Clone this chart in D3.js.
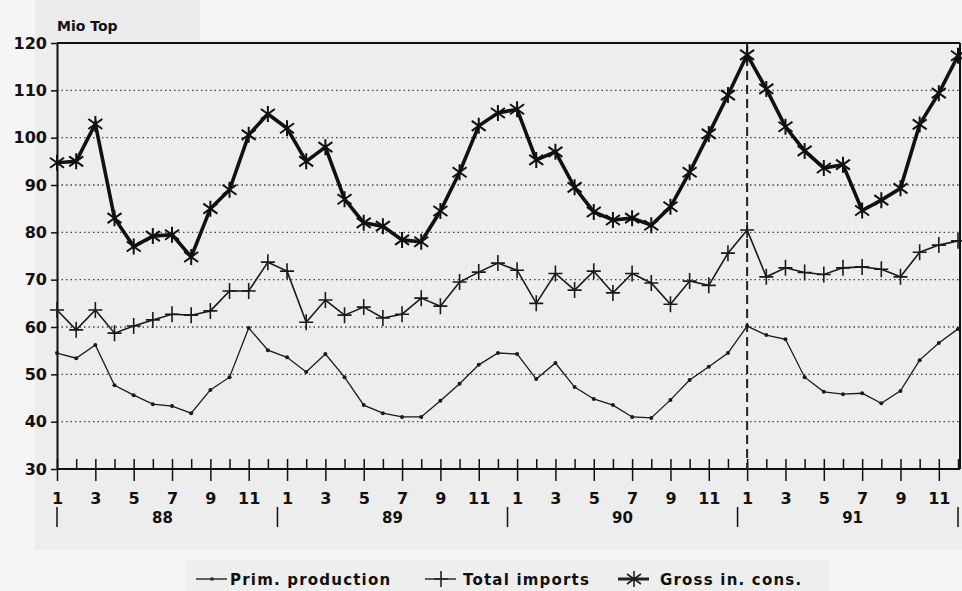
<!DOCTYPE html>
<html>
<head>
<meta charset="utf-8">
<script src="https://cdn.jsdelivr.net/npm/d3@7"></script>
<style>
  body { margin: 0; background: #f5f5f5; }
  svg { display: block; }
  text { font-family: "DejaVu Sans", sans-serif; font-weight: bold; fill: #111; }
</style>
</head>
<body>
<svg id="chart" width="962" height="591"></svg>
<script>
// months Jan 1988 .. Dec 1991
var years = ['88', '89', '90', '91'];
var monthLabels = [1, 3, 5, 7, 9, 11];
var yTicks = [30, 40, 50, 60, 70, 80, 90, 100, 110, 120];

// Mio Toe
var primProduction = [
  54.5, 53.4, 56.2, 47.7, 45.6, 43.7, 43.3, 41.8, 46.7, 49.4, 59.8, 55.1,
  53.6, 50.5, 54.3, 49.4, 43.5, 41.8, 41.0, 41.0, 44.4, 48.0, 52.0, 54.5,
  54.3, 49.0, 52.4, 47.3, 44.8, 43.5, 41.0, 40.8, 44.6, 48.8, 51.6, 54.5,
  60.2, 58.3, 57.4, 49.4, 46.3, 45.8, 46.0, 43.9, 46.5, 53.0, 56.6, 59.6
];
var totalImports = [
  63.6, 59.4, 63.6, 58.7, 60.2, 61.5, 62.7, 62.5, 63.4, 67.6, 67.6, 73.7,
  71.8, 61.0, 65.7, 62.5, 64.2, 61.9, 62.7, 66.1, 64.4, 69.5, 71.6, 73.5,
  72.0, 65.0, 71.3, 67.8, 71.8, 67.2, 71.3, 69.3, 64.8, 69.7, 68.8, 75.6,
  80.5, 70.6, 72.5, 71.5, 71.1, 72.5, 72.7, 72.2, 70.6, 75.8, 77.3, 78.2
];
var grossCons = [
  94.7, 95.0, 102.9, 83.0, 77.0, 79.2, 79.5, 74.8, 85.0, 89.0, 100.6, 105.0,
  102.0, 95.0, 98.0, 87.0, 82.0, 81.3, 78.4, 78.0, 84.5, 92.7, 102.5, 105.2,
  106.0, 95.3, 97.0, 89.5, 84.3, 82.6, 83.0, 81.5, 85.4, 92.7, 100.8, 109.0,
  117.5, 110.3, 102.3, 97.2, 93.6, 94.3, 84.6, 86.8, 89.3, 102.8, 109.4, 117.3
];

var svg = d3.select('#chart');
var plotL = 57, plotR = 958, plotT = 43, plotB = 469;

var x = d3.scaleLinear().domain([0, 47]).range([plotL, plotR]);
var y = d3.scaleLinear().domain([30, 120]).range([plotB, plotT]);

// scanned page background
svg.append('rect').attr('x', 35).attr('y', 0).attr('width', 165).attr('height', 45).attr('fill', '#ebebeb');
svg.append('rect').attr('x', 35).attr('y', 40).attr('width', 927).attr('height', 510).attr('fill', '#ededed');
svg.append('rect').attr('x', 185).attr('y', 560).attr('width', 645).attr('height', 31).attr('fill', '#eeeeee');

// grid
svg.append('g')
  .selectAll('line')
  .data(yTicks.filter(function(d) { return d > 30 && d < 120; }))
  .join('line')
  .attr('x1', plotL).attr('x2', plotR + 2)
  .attr('y1', function(d) { return y(d); })
  .attr('y2', function(d) { return y(d); })
  .attr('stroke', '#444')
  .attr('stroke-width', 1.3)
  .attr('stroke-dasharray', '1.5,3');

// frame
svg.append('line').attr('x1', plotL).attr('x2', plotR + 2).attr('y1', plotT).attr('y2', plotT)
  .attr('stroke', '#111').attr('stroke-width', 2);
svg.append('line').attr('x1', plotR + 2).attr('x2', plotR + 2).attr('y1', plotT).attr('y2', plotB)
  .attr('stroke', '#111').attr('stroke-width', 2);

// y axis
var yAxis = svg.append('g')
  .attr('transform', 'translate(' + plotL + ',0)')
  .call(d3.axisLeft(y).tickValues(yTicks).tickSize(6).tickPadding(4).tickSizeOuter(0));
yAxis.select('.domain').attr('stroke', '#111').attr('stroke-width', 2);
yAxis.selectAll('line').attr('stroke', '#111').attr('stroke-width', 1.5);
yAxis.selectAll('text').style('font-size', '16px').attr('fill', '#111');

// x axis, a tick for every month
var xAxis = svg.append('g')
  .attr('transform', 'translate(0,' + plotB + ')')
  .call(d3.axisBottom(x)
    .tickValues(d3.range(48))
    .tickSizeOuter(0)
    .tickSize(0)
    .tickPadding(24)
    .tickFormat(function(i) {
      var m = i % 12 + 1;
      return monthLabels.indexOf(m) >= 0 ? m : '';
    }));
xAxis.select('.domain').attr('stroke', '#111').attr('stroke-width', 2).attr('d', 'M' + plotL + ',0H' + (plotR + 2));
xAxis.selectAll('.tick line')
  .attr('y1', -10)
  .attr('y2', function(i) { return (i % 2 == 0) ? 12 : 0; })
  .attr('stroke', '#111').attr('stroke-width', 1.5);
xAxis.selectAll('.tick text').style('font-size', '16px').attr('fill', '#111');

// year separators and labels
var sep = [0, 11.5, 23.5, 35.5, 47];
svg.append('g').selectAll('line')
  .data(sep)
  .join('line')
  .attr('x1', function(d) { return x(d); })
  .attr('x2', function(d) { return x(d); })
  .attr('y1', 507).attr('y2', 527)
  .attr('stroke', '#111').attr('stroke-width', 1.5);

svg.append('g').selectAll('text')
  .data(years)
  .join('text')
  .attr('x', function(d, i) { return x(i * 12 + 5.5); })
  .attr('y', 523)
  .attr('text-anchor', 'middle')
  .style('font-size', '15px')
  .text(function(d) { return d; });

// unit label
svg.append('text').attr('x', 57).attr('y', 31).style('font-size', '14px').text('Mio Top');

// dashed marker at Jan 91
svg.append('line')
  .attr('x1', x(36)).attr('x2', x(36))
  .attr('y1', plotT).attr('y2', plotB)
  .attr('stroke', '#222').attr('stroke-width', 2)
  .attr('stroke-dasharray', '9,5');

var line = d3.line()
  .x(function(d, i) { return x(i); })
  .y(function(d) { return y(d); });

// prim. production
svg.append('path').datum(primProduction)
  .attr('d', line).attr('fill', 'none')
  .attr('stroke', '#1a1a1a').attr('stroke-width', 1.3);
svg.append('g').selectAll('circle')
  .data(primProduction)
  .join('circle')
  .attr('cx', function(d, i) { return x(i); })
  .attr('cy', function(d) { return y(d); })
  .attr('r', 2)
  .attr('fill', '#1a1a1a');

function plus(cx, cy) {
  return 'M' + cx + ',' + (cy - 8) + 'V' + (cy + 8) + 'M' + (cx - 7) + ',' + cy + 'H' + (cx + 7);
}
function star(cx, cy) {
  return 'M' + cx + ',' + (cy - 8) + 'V' + (cy + 8) +
    'M' + (cx - 7) + ',' + (cy - 5) + 'L' + (cx + 7) + ',' + (cy + 5) +
    'M' + (cx - 7) + ',' + (cy + 5) + 'L' + (cx + 7) + ',' + (cy - 5);
}

// total imports
svg.append('path').datum(totalImports)
  .attr('d', line).attr('fill', 'none')
  .attr('stroke', '#1a1a1a').attr('stroke-width', 1.6);
svg.append('g').selectAll('path')
  .data(totalImports)
  .join('path')
  .attr('d', function(d, i) { return plus(x(i), y(d)); })
  .attr('stroke', '#1a1a1a').attr('stroke-width', 1.6);

// gross inland consumption
svg.append('path').datum(grossCons)
  .attr('d', line).attr('fill', 'none')
  .attr('stroke', '#111').attr('stroke-width', 3.6);
svg.append('g').selectAll('path')
  .data(grossCons)
  .join('path')
  .attr('d', function(d, i) { return star(x(i), y(d)); })
  .attr('stroke', '#111').attr('stroke-width', 2);

// legend
var legend = [
  { name: 'Prim. production', x: 196, tx: 230, kind: 'dot' },
  { name: 'Total imports', x: 425, tx: 463, kind: 'plus' },
  { name: 'Gross in. cons.', x: 618, tx: 660, kind: 'star' }
];
var lg = svg.append('g').selectAll('g').data(legend).join('g');
lg.append('line')
  .attr('x1', function(d) { return d.x; })
  .attr('x2', function(d) { return d.x + 31; })
  .attr('y1', 579).attr('y2', 579)
  .attr('stroke', '#222')
  .attr('stroke-width', function(d) { return d.kind == 'star' ? 3 : 1.4; });
lg.append('path')
  .attr('d', function(d) {
    var cx = d.x + 16;
    if (d.kind == 'plus') return plus(cx, 579);
    if (d.kind == 'star') return star(cx, 579);
    return 'M' + (cx - 1.5) + ',579H' + (cx + 1.5);
  })
  .attr('stroke', '#222')
  .attr('stroke-width', function(d) { return d.kind == 'dot' ? 3 : 1.6; });
lg.append('text')
  .attr('x', function(d) { return d.tx; })
  .attr('y', 585)
  .style('font-size', '15px')
  .style('letter-spacing', '1.2px')
  .text(function(d) { return d.name; });
</script>
</body>
</html>
